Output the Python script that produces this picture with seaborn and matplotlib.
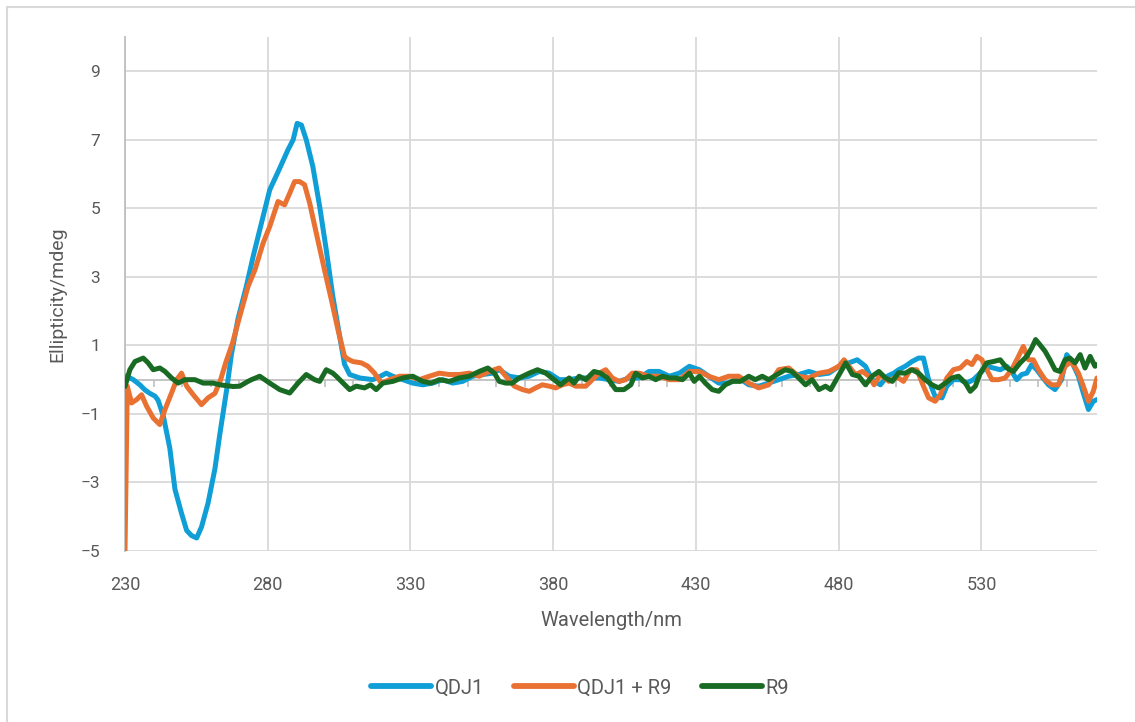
import matplotlib
matplotlib.use("Agg")
import matplotlib.pyplot as plt
from matplotlib import font_manager
from matplotlib.patches import Rectangle
import seaborn as sns
import pandas as pd
import numpy as np

# CD spectra: wavelength (nm) and ellipticity (mdeg) for each sample
qdj1_nm = [230.0, 230.6, 232.9, 235.2, 237.0, 238.7, 240.5, 241.6, 243.4, 245.7, 247.5, 249.8,
           251.6, 253.3, 255.1, 256.8, 259.1, 261.5, 263.2, 265.6, 267.3, 269.6, 272.5, 274.9,
           277.8, 280.7, 284.2, 287.1, 288.9, 290.3, 291.8, 293.5, 295.8, 298.2, 300.5, 302.8,
           305.2, 306.9, 308.7, 312.2, 316.8, 319.5, 321.5, 323.8, 327.3, 330.8, 334.3, 337.8,
           341.3, 344.8, 348.3, 351.8, 355.3, 358.8, 361.1, 364.6, 368.1, 371.6, 375.1, 378.6,
           382.1, 385.6, 389.1, 392.6, 396.1, 399.6, 403.1, 406.6, 410.1, 413.6, 417.1, 420.7,
           424.2, 427.7, 431.2, 434.5, 438.0, 441.5, 445.0, 448.5, 452.0, 455.5, 459.0, 462.5,
           466.0, 469.6, 473.1, 476.6, 480.1, 483.6, 486.5, 489.4, 491.7, 494.6, 497.0, 499.3,
           501.0, 503.3, 505.7, 508.0, 509.7, 511.5, 513.8, 516.2, 517.9, 520.2, 522.6, 524.9,
           527.2, 529.6, 531.9, 534.2, 536.6, 538.9, 540.6, 542.4, 544.1, 545.9, 547.6, 549.4,
           551.1, 553.5, 555.8, 558.1, 559.9, 561.6, 564.0, 565.7, 567.5, 569.2, 570.5]
qdj1_mdeg = [0.10, 0.10, 0.00, -0.15, -0.30, -0.40, -0.48, -0.60, -1.05, -2.00, -3.20, -3.90,
             -4.40, -4.55, -4.62, -4.30, -3.60, -2.60, -1.60, -0.30, 0.75, 1.78, 2.72, 3.60,
             4.57, 5.54, 6.17, 6.71, 7.00, 7.48, 7.43, 7.00, 6.22, 5.05, 3.79, 2.43,
             1.26, 0.45, 0.15, 0.05, 0.00, 0.10, 0.19, 0.10, 0.00, -0.10, -0.15, -0.10,
             0.00, -0.10, -0.05, 0.10, 0.15, 0.19, 0.29, 0.10, 0.05, 0.10, 0.24, 0.19,
             0.00, 0.00, 0.05, 0.05, 0.05, 0.00, -0.05, 0.05, 0.05, 0.24, 0.24, 0.10,
             0.19, 0.39, 0.29, 0.10, -0.10, -0.10, 0.05, -0.15, -0.19, -0.10, 0.00, 0.10,
             0.15, 0.24, 0.15, 0.19, 0.39, 0.49, 0.58, 0.39, 0.00, -0.15, 0.10, 0.19,
             0.29, 0.39, 0.53, 0.63, 0.63, 0.00, -0.49, -0.53, -0.19, 0.00, 0.00, -0.10,
             0.00, 0.19, 0.39, 0.34, 0.29, 0.39, 0.24, 0.00, 0.15, 0.19, 0.44, 0.29,
             0.10, -0.15, -0.29, 0.00, 0.73, 0.53, 0.10, -0.39, -0.87, -0.63, -0.58]

mix_nm = [230.0, 230.8, 232.3, 234.1, 235.8, 237.6, 239.9, 242.2, 244.0, 246.3, 248.1, 249.8,
          251.6, 253.9, 256.8, 259.1, 261.5, 263.5, 265.3, 267.6, 270.2, 273.1, 275.5, 278.4,
          280.7, 283.6, 285.9, 287.7, 289.4, 291.2, 292.9, 294.7, 297.0, 299.9, 302.3, 304.6,
          306.9, 308.1, 309.8, 312.8, 315.1, 317.4, 319.8, 322.7, 326.2, 329.6, 333.1, 336.6,
          340.1, 343.6, 347.1, 350.6, 354.1, 357.6, 361.1, 363.4, 366.4, 369.3, 371.6, 373.9,
          376.2, 378.6, 380.9, 383.2, 385.6, 387.9, 391.4, 393.7, 396.1, 398.4, 400.7, 403.1,
          405.4, 407.7, 410.1, 413.6, 417.1, 420.7, 424.2, 427.7, 431.2, 434.5, 438.0, 441.5,
          445.0, 448.5, 452.0, 455.5, 459.0, 462.5, 466.0, 469.6, 473.1, 476.6, 480.1, 481.9,
          483.6, 485.9, 488.3, 490.6, 492.4, 494.6, 497.6, 499.5, 501.0, 502.7, 505.1, 507.4,
          509.7, 511.5, 513.8, 515.6, 517.9, 520.2, 522.6, 524.9, 526.7, 528.4, 530.2, 531.9,
          533.7, 536.0, 538.3, 540.6, 543.0, 544.7, 546.5, 548.2, 550.0, 552.3, 554.6, 557.0,
          559.3, 561.6, 564.0, 565.7, 567.5, 569.2, 570.5]
mix_mdeg = [-5.00, -0.19, -0.68, -0.58, -0.44, -0.78, -1.12, -1.31, -0.87, -0.39, 0.00, 0.19,
            -0.19, -0.44, -0.73, -0.53, -0.40, 0.00, 0.50, 1.05, 1.85, 2.72, 3.20, 3.99,
            4.47, 5.20, 5.10, 5.44, 5.78, 5.78, 5.69, 5.15, 4.28, 3.20, 2.33, 1.46,
            0.68, 0.60, 0.53, 0.49, 0.39, 0.19, -0.10, 0.00, 0.10, 0.10, 0.00, 0.10,
            0.19, 0.15, 0.15, 0.19, 0.10, 0.24, 0.34, 0.10, -0.19, -0.29, -0.34, -0.24,
            -0.15, -0.19, -0.24, -0.15, -0.10, -0.19, -0.19, 0.00, 0.19, 0.29, 0.05, -0.05,
            0.00, 0.19, 0.19, 0.10, 0.10, 0.00, 0.00, 0.24, 0.24, 0.10, 0.00, 0.10,
            0.10, -0.10, -0.24, -0.15, 0.29, 0.34, 0.10, 0.05, 0.19, 0.24, 0.39, 0.58,
            0.39, 0.15, 0.24, 0.10, -0.15, 0.15, -0.05, 0.05, 0.05, -0.05, 0.29, 0.29,
            -0.19, -0.53, -0.63, -0.44, 0.05, 0.29, 0.34, 0.53, 0.44, 0.68, 0.58, 0.29,
            0.00, 0.00, 0.05, 0.29, 0.68, 0.97, 0.58, 0.58, 0.29, 0.00, -0.15, -0.15,
            0.39, 0.53, 0.19, -0.19, -0.63, -0.34, 0.05]

r9_nm = [230.0, 231.7, 233.5, 236.4, 238.1, 239.9, 242.2, 244.0, 246.3, 248.6, 251.0, 254.5,
         257.4, 260.9, 263.2, 267.9, 270.2, 273.1, 274.3, 277.2, 280.7, 284.2, 287.7, 290.6,
         293.5, 296.4, 298.2, 300.5, 302.8, 304.0, 307.5, 308.7, 311.0, 313.9, 316.0, 318.0,
         320.3, 323.8, 327.3, 330.8, 334.3, 337.2, 340.1, 343.6, 347.1, 350.6, 354.1, 357.1,
         359.4, 361.1, 363.4, 365.7, 368.1, 371.6, 374.5, 377.4, 380.3, 382.6, 385.6, 387.3,
         389.1, 391.4, 394.3, 396.6, 399.0, 401.9, 404.8, 407.2, 408.9, 411.3, 413.6, 415.9,
         418.3, 420.6, 422.9, 425.3, 427.7, 429.4, 431.2, 433.3, 435.7, 438.0, 440.3, 442.7,
         445.6, 448.5, 450.8, 453.2, 455.5, 458.4, 461.3, 463.6, 466.0, 468.4, 470.7, 473.1,
         475.4, 477.2, 479.5, 482.5, 484.8, 487.1, 489.4, 491.7, 494.1, 496.4, 498.8, 501.0,
         503.3, 505.7, 508.0, 510.3, 512.7, 515.0, 517.4, 519.7, 522.0, 524.4, 526.1, 527.9,
         529.6, 531.9, 534.2, 536.6, 538.9, 541.2, 543.6, 545.9, 547.6, 549.0, 550.5, 552.3,
         554.0, 555.8, 557.5, 559.3, 561.0, 562.8, 564.6, 566.3, 568.1, 569.8, 570.5]
r9_mdeg = [-0.20, 0.29, 0.53, 0.63, 0.49, 0.29, 0.34, 0.24, 0.05, -0.10, 0.00, 0.00,
           -0.10, -0.10, -0.15, -0.20, -0.19, -0.05, 0.00, 0.10, -0.10, -0.29, -0.39, -0.10,
           0.15, 0.00, -0.05, 0.29, 0.19, 0.10, -0.19, -0.29, -0.19, -0.24, -0.15, -0.29,
           -0.10, -0.05, 0.05, 0.10, -0.05, -0.10, 0.00, -0.05, 0.05, 0.10, 0.24, 0.34,
           0.19, -0.05, -0.10, -0.10, 0.05, 0.19, 0.29, 0.19, 0.00, -0.15, 0.05, -0.10,
           0.10, 0.00, 0.24, 0.19, 0.05, -0.29, -0.29, -0.15, 0.19, 0.05, 0.10, 0.00,
           0.10, 0.05, 0.05, 0.00, 0.19, -0.05, 0.10, -0.10, -0.29, -0.34, -0.15, -0.05,
           -0.05, 0.10, 0.00, 0.10, 0.00, 0.15, 0.29, 0.24, 0.05, -0.15, 0.00, -0.29,
           -0.19, -0.29, 0.05, 0.49, 0.15, 0.10, -0.15, 0.10, 0.24, 0.05, -0.05, 0.20,
           0.19, 0.29, 0.19, 0.00, -0.15, -0.24, -0.10, 0.05, 0.10, -0.10, -0.34, -0.19,
           0.19, 0.49, 0.53, 0.58, 0.34, 0.24, 0.49, 0.68, 0.92, 1.17, 1.02, 0.83,
           0.58, 0.29, 0.24, 0.58, 0.63, 0.49, 0.73, 0.34, 0.68, 0.39, 0.44]

series_names = ["QDJ1", "QDJ1 + R9", "R9"]
series_colors = ["#0F9ED5", "#E97132", "#196B24"]
x_ticks = [230, 280, 330, 380, 430, 480, 530]
y_ticks = [-5, -3, -1, 1, 3, 5, 7, 9]

frames = []
for name, nm, val in zip(series_names, [qdj1_nm, mix_nm, r9_nm], [qdj1_mdeg, mix_mdeg, r9_mdeg]):
    frames.append(pd.DataFrame({"Wavelength": nm, "Ellipticity": val, "Sample": name}))
df = pd.concat(frames, ignore_index=True)

sns.set_theme(style="white")
available = {f.name for f in font_manager.fontManager.ttflist}
base_font = "Roboto" if "Roboto" in available else "DejaVu Sans"
plt.rcParams["font.family"] = [base_font, "DejaVu Sans"]

text_grey = "#595959"
grid_grey = "#D9D9D9"
axis_grey = "#BFBFBF"

fig = plt.figure(figsize=(11.35, 7.22), dpi=100)
ax = fig.add_axes([125 / 1135, 1 - 551 / 722, (1097 - 125) / 1135, (551 - 37) / 722])

sns.lineplot(data=df, x="Wavelength", y="Ellipticity", hue="Sample",
             hue_order=series_names, palette=series_colors, estimator=None,
             sort=False, linewidth=3.6, ax=ax, legend=True, zorder=3,
             solid_joinstyle="round", solid_capstyle="round")

ax.set_xlim(230, 570.5)
ax.set_ylim(-5, 10)
ax.set_xticks(x_ticks)
ax.set_yticks(y_ticks)
ax.grid(True, color=grid_grey, linewidth=1.3, zorder=0)
ax.set_axisbelow(True)
for side in ["top", "right", "bottom"]:
    ax.spines[side].set_visible(False)
ax.spines["left"].set_color(axis_grey)
ax.spines["left"].set_linewidth(1.3)
ax.tick_params(axis="both", length=0, colors=text_grey, labelsize=12.5)
ax.tick_params(axis="x", pad=18, labelsize=13)
ax.tick_params(axis="y", pad=18)

# zero line carrying the minor tick marks
zero_axis = ax.secondary_xaxis(0, transform=ax.transData)
zero_axis.set_xticks(np.arange(240, 571, 10))
zero_axis.set_xticklabels([])
zero_axis.tick_params(axis="x", direction="out", length=5, width=1.2, color=axis_grey)
zero_axis.spines["bottom"].set_color(axis_grey)
zero_axis.spines["bottom"].set_linewidth(1.3)

ax.set_xlabel("Wavelength/nm", color=text_grey, fontsize=14.5, labelpad=12)
ax.set_ylabel("Ellipticity/mdeg", color=text_grey, fontsize=14, labelpad=10)

handles, labels = ax.get_legend_handles_labels()
ax.legend_.remove()
leg = fig.legend(handles, labels, loc="center", bbox_to_anchor=(580 / 1135, 1 - 688 / 722),
                 ncol=3, frameon=False, fontsize=14.5, handlelength=3.0, columnspacing=1.5,
                 handletextpad=0.15)
for t in leg.get_texts():
    t.set_color(text_grey)
for h in leg.legend_handles:
    h.set_linewidth(4.2)
    h.set_solid_capstyle("round")

fig.patches.append(Rectangle((7 / 1135, -0.01), 1.05, 1 - 7 / 722 + 0.01,
                             transform=fig.transFigure, fill=False,
                             edgecolor="#D9D9D9", linewidth=1.5))

fig.savefig("out.png", dpi=100, facecolor="white")
